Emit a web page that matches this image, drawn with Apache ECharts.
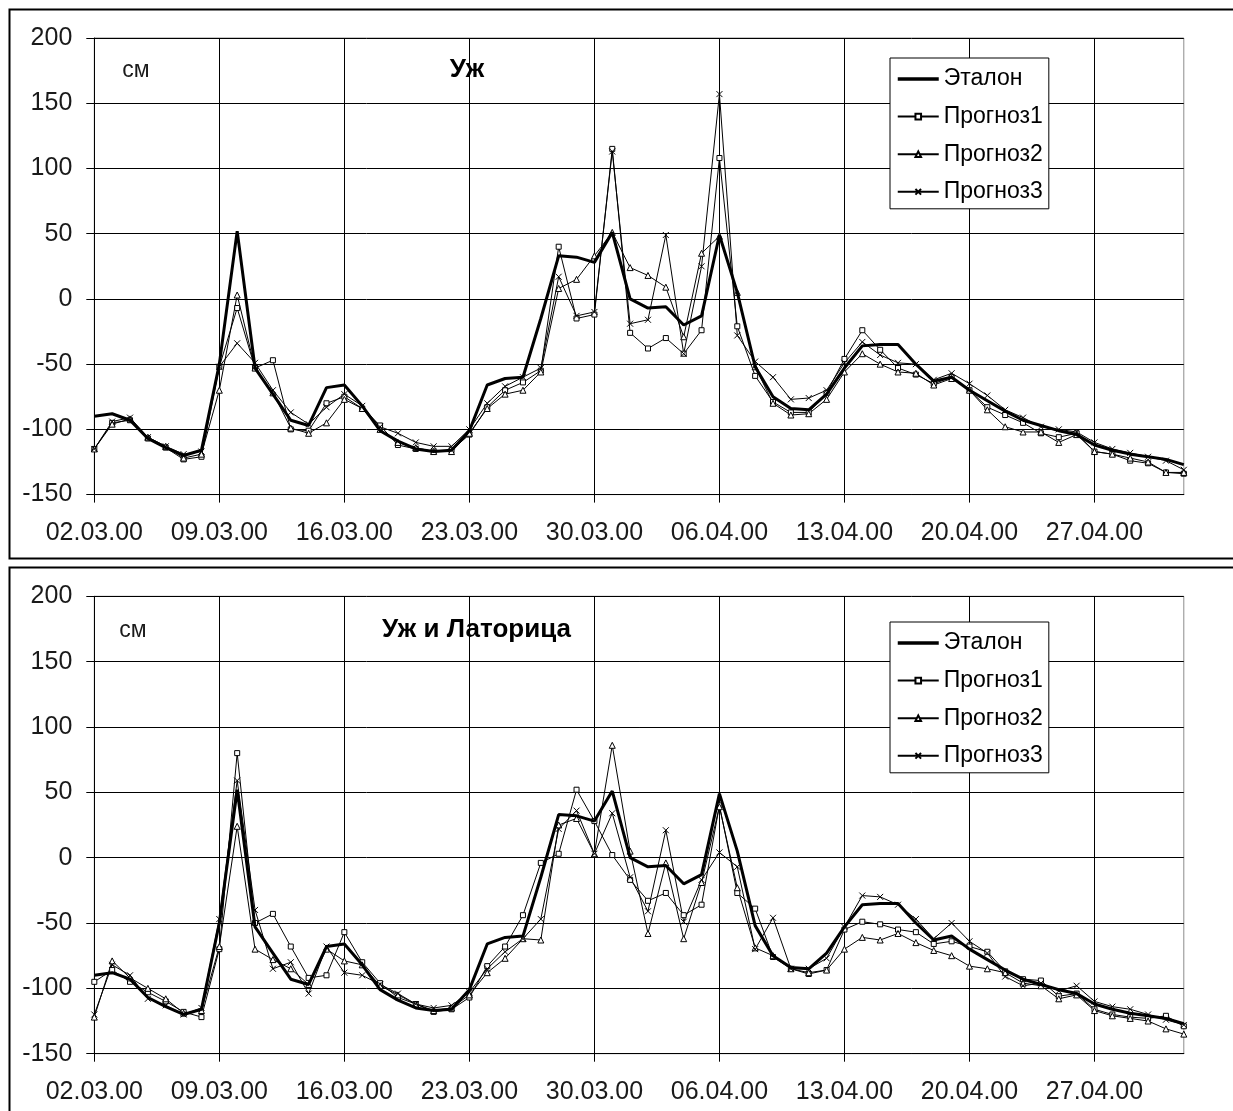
<!DOCTYPE html>
<html><head><meta charset="utf-8">
<script src="https://cdn.jsdelivr.net/npm/echarts@6/dist/echarts.min.js"></script>
<style>html,body{margin:0;padding:0;background:#fff}#c{width:1233px;height:1111px}</style>
</head><body><div id="c"></div>
<script>
const dates = ["02.03.00","03.03.00","04.03.00","05.03.00","06.03.00","07.03.00","08.03.00","09.03.00","10.03.00","11.03.00",
"12.03.00","13.03.00","14.03.00","15.03.00","16.03.00","17.03.00","18.03.00","19.03.00","20.03.00","21.03.00",
"22.03.00","23.03.00","24.03.00","25.03.00","26.03.00","27.03.00","28.03.00","29.03.00","30.03.00","31.03.00",
"01.04.00","02.04.00","03.04.00","04.04.00","05.04.00","06.04.00","07.04.00","08.04.00","09.04.00","10.04.00",
"11.04.00","12.04.00","13.04.00","14.04.00","15.04.00","16.04.00","17.04.00","18.04.00","19.04.00","20.04.00",
"21.04.00","22.04.00","23.04.00","24.04.00","25.04.00","26.04.00","27.04.00","28.04.00","29.04.00","30.04.00",
"01.05.00","02.05.00"];

const seriesNames = ["Эталон","Прогноз1","Прогноз2","Прогноз3"];
const chartTitles = ["Уж","Уж и Латорица"];
const unitLabel = "см";
const yMin = -150, yMax = 200, yStep = 50;

const etalon = [-90,-88,-93,-107,-114,-120,-116,-50,52,-53, -73,-93,-97,-68,-66,-82,-101,-109,-115,-117,
 -116,-101,-66,-61,-60,-15,33,32,28,51, 0,-7,-6,-20,-13,49,5,-52,-75,-84,
 -85,-73,-53,-36,-35,-35,-50,-63,-60,-70, -78,-86,-93,-97,-101,-104,-112,-116,-119,-121, -123,-127];

const uzhP1 = [-115,-95,-93,-107,-114,-123,-121,-52,-7,-53, -47,-100,-101,-80,-75,-84,-97,-112,-115,-117,
 -116,-104,-83,-70,-64,-55,40,-15,-12,115, -26,-38,-30,-42,-24,108,-21,-59,-79,-87,
 -87,-72,-46,-24,-39,-53,-58,-65,-60,-70, -83,-89,-95,-103,-106,-103,-117,-119,-124,-126, -133,-134];
const uzhP2 = [-115,-96,-92,-106,-113,-122,-119,-70,3,-53, -72,-99,-103,-95,-77,-84,-100,-110,-114,-117,
 -117,-103,-84,-73,-70,-56,8,15,33,51, 24,18,9,-29,35,48,5,-52,-80,-89,
 -88,-77,-56,-42,-50,-56,-57,-66,-61,-70, -85,-98,-102,-102,-110,-104,-117,-119,-122,-125, -133,-133];
const uzhP3 = [-115,-94,-91,-106,-113,-119,-117,-52,-34,-49, -70,-87,-96,-83,-73,-82,-98,-103,-110,-113,
 -113,-100,-80,-67,-60,-53,17,-13,-10,113, -19,-16,49,-42,25,157,-28,-48,-60,-77,
 -76,-70,-49,-33,-43,-49,-50,-62,-57,-65, -74,-85,-91,-98,-100,-102,-110,-115,-118,-121, -124,-131];

const latP1 = [-95,-86,-95,-103,-110,-118,-122,-70,80,-50, -43,-68,-92,-90,-57,-80,-96,-107,-112,-118,
 -116,-107,-83,-68,-44,-4,3,52,28,2, -17,-33,-27,-44,-36,40,-27,-39,-76,-85,
 -89,-86,-55,-49,-51,-55,-57,-66,-64,-68, -72,-87,-93,-94,-106,-104,-116,-120,-122,-123, -121,-129];
const latP2 = [-122,-79,-92,-100,-108,-119,-117,-68,24,-70, -78,-85,-97,-70,-79,-82,-98,-105,-112,-117,
 -115,-105,-88,-77,-62,-63,25,30,3,86, 5,-58,-4,-62,-19,39,-23,-69,-75,-85,
 -88,-86,-70,-61,-63,-58,-65,-71,-75,-83, -85,-88,-96,-98,-108,-105,-117,-121,-123,-125, -131,-135];
const latP3 = [-120,-82,-90,-108,-113,-120,-115,-47,59,-40, -85,-80,-104,-68,-88,-90,-97,-104,-112,-115,
 -113,-103,-85,-72,-62,-47,22,36,3,34, -15,-41,21,-49,-17,4,-7,-70,-46,-85,
 -85,-77,-53,-29,-30,-36,-47,-62,-50,-64, -73,-91,-98,-96,-102,-98,-110,-114,-116,-120, -124,-128];

const FONT = "'Liberation Sans', Arial, sans-serif";
const chart = echarts.init(document.getElementById('c'), null, {renderer:'canvas'});

const gridsPos = [{top:38, height:456.6},{top:596.3, height:457.4}];
const legendTops = [58, 622];
const dataSets = [[etalon, uzhP1, uzhP2, uzhP3],[etalon, latP1, latP2, latP3]];
const symbols = ['none','rect','triangle','path://M0,0L8,8M8,0L0,8'];
const symSizes = [0,5,6,6];

const grids = [], xAxes = [], yAxes = [], series = [], legends = [];
gridsPos.forEach((g,i)=>{
  grids.push({left:94.3, width:1089.5, top:g.top, height:g.height, show:true, borderColor:'#8c8c8c', borderWidth:1, backgroundColor:'#fff'});
  xAxes.push({gridIndex:i, type:'category', data:dates, boundaryGap:false,
    axisLine:{onZero:false, lineStyle:{color:'#000', width:1}},
    axisTick:{interval:6, length:8, lineStyle:{color:'#000'}},
    axisLabel:{interval:6, fontSize:25, color:'#1a1a1a', margin:26, fontFamily:FONT},
    splitLine:{show:true, interval:6, lineStyle:{color:'#000', width:1}}});
  yAxes.push({gridIndex:i, type:'value', min:yMin, max:yMax, interval:yStep,
    axisLine:{show:true, lineStyle:{color:'#000'}},
    axisTick:{show:true, length:8, lineStyle:{color:'#000'}},
    axisLabel:{fontSize:25, color:'#1a1a1a', margin:22, fontFamily:FONT},
    splitLine:{show:true, lineStyle:{color:'#000', width:1}}});
  dataSets[i].forEach((arr,k)=>{
    series.push({name:seriesNames[k], type:'line', xAxisIndex:i, yAxisIndex:i, data:arr,
      symbol:symbols[k], symbolSize:symSizes[k], showAllSymbol:true, z: k===0?3:2,
      lineStyle:{color:'#000', width:k===0?3:1},
      itemStyle:{color:'#fff', borderColor:'#000', borderWidth:1},
      emphasis:{disabled:true}, animation:false});
  });
  legends.push({show:true, orient:'vertical', left:890, top:legendTops[i],
    data:[{name:seriesNames[0], itemStyle:{color:'rgba(0,0,0,0)', borderColor:'rgba(0,0,0,0)', borderWidth:0, opacity:0},
           lineStyle:{color:'#000', width:3.5, opacity:1}},
          seriesNames[1], seriesNames[2], seriesNames[3]],
    backgroundColor:'#fff', borderColor:'#000', borderWidth:1, padding:[9,6,5,6],
    itemWidth:41, itemHeight:7, itemGap:13.6, selectedMode:false,
    textStyle:{fontSize:23, fontFamily:FONT, color:'#000', lineHeight:24}});
});

const graphics = [
  {type:'rect', shape:{x:9.5,y:9.5,width:1300,height:549}, style:{fill:'none', stroke:'#000', lineWidth:2}, z:100},
  {type:'rect', shape:{x:9.5,y:567.5,width:1300,height:600}, style:{fill:'none', stroke:'#000', lineWidth:2}, z:100},
  {type:'text', x:136, y:70.5, style:{text:unitLabel, fontSize:23, fontFamily:FONT, fill:'#1a1a1a', align:'center', verticalAlign:'middle'}, z:100},
  {type:'text', x:467, y:70, style:{text:chartTitles[0], fontSize:26, fontWeight:'bold', fontFamily:FONT, fill:'#000', align:'center', verticalAlign:'middle'}, z:100},
  {type:'text', x:133, y:631, style:{text:unitLabel, fontSize:23, fontFamily:FONT, fill:'#1a1a1a', align:'center', verticalAlign:'middle'}, z:100},
  {type:'text', x:476.5, y:630, style:{text:chartTitles[1], fontSize:26, fontWeight:'bold', fontFamily:FONT, fill:'#000', align:'center', verticalAlign:'middle'}, z:100}
];

chart.setOption({animation:false, backgroundColor:'#fff', grid:grids, xAxis:xAxes, yAxis:yAxes, series:series, legend:legends, graphic:graphics});
</script></body></html>
